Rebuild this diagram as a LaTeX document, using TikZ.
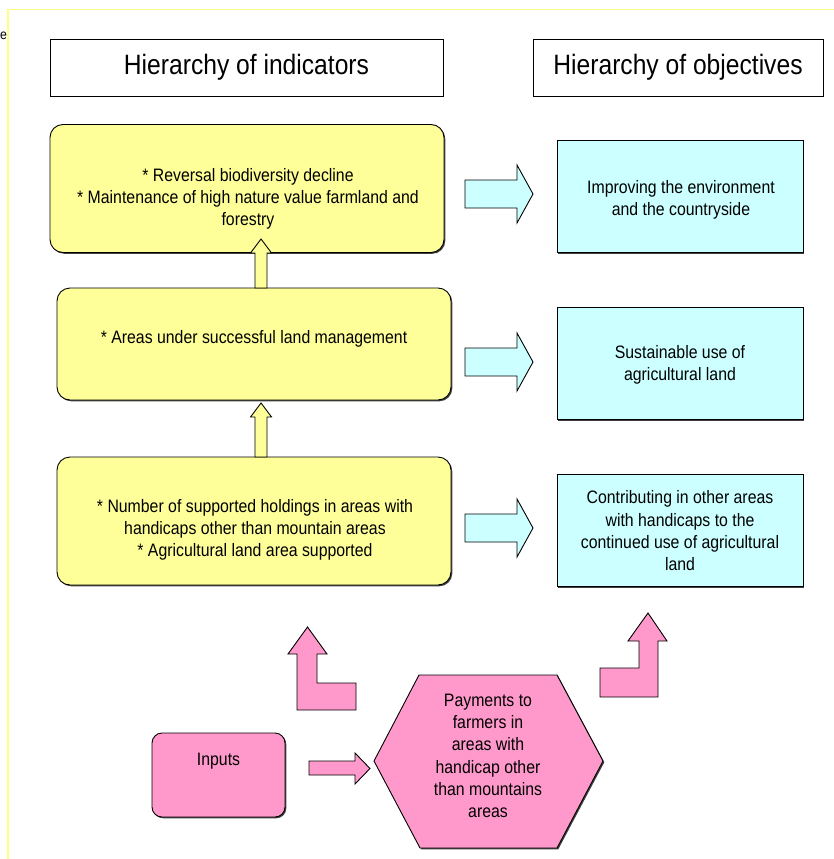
\documentclass[tikz,border=0pt]{standalone}
\usepackage{fontspec}
\setmainfont{Liberation Sans}[FakeStretch=0.88]
\usetikzlibrary{shadows}
\definecolor{ylw}{HTML}{FFFF99}
\definecolor{cyn}{HTML}{CCFFFF}
\definecolor{pnk}{HTML}{FF99CC}
\definecolor{frm}{HTML}{FFFF80}
\tikzset{
  shd/.style={drop shadow={shadow xshift=1.3pt,shadow yshift=-1.3pt,opacity=1,fill=black!75}},
  hdr/.style={draw,line width=0.9pt,fill=white,shd,inner sep=0pt,minimum height=57,font=\fontsize{28}{32}\selectfont},
  ybox/.style={draw,line width=0.9pt,fill=ylw,shd,rounded corners=13pt,minimum width=394,inner sep=0pt},
  cbox/.style={draw,line width=0.9pt,fill=cyn,shd,minimum width=246,minimum height=112,inner sep=0pt},
  txt/.style={align=center,inner sep=0pt,font=\fontsize{18}{22.3}\selectfont},
  yarr/.style={draw,line width=0.9pt,fill=ylw,line join=miter},
  carr/.style={draw,line width=0.9pt,fill=cyn,line join=miter},
  parr/.style={draw,line width=0.9pt,fill=pnk,line join=miter},
}
\begin{document}
\begin{tikzpicture}[x=1pt,y=-1pt]
\useasboundingbox (0,0) rectangle (834,859);
% outer frame
\draw[frm,line width=1.4pt] (8,9.5) rectangle (900,900);
\node[anchor=base west,font=\fontsize{14}{16}\selectfont,inner sep=0pt] (efrag) at (0,40) {e};
% headers
\node[hdr,minimum width=393] (hi) at (246.5,67.5) {Hierarchy of indicators};
\node[hdr,minimum width=290] (ho) at (678,67.5) {Hierarchy of objectives};
% yellow boxes
\node[ybox,minimum height=128] (y1) at (247,188.5) {};
\node[txt] (y1t) at (248,199) {* Reversal biodiversity decline\\* Maintenance of high nature value farmland and\\forestry};
\node[ybox,minimum height=112] (y2) at (254,344) {};
\node[txt] (y2t) at (254,339) {* Areas under successful land management};
\node[ybox,minimum height=128] (y3) at (254,521) {};
\node[txt] (y3t) at (255,530) {* Number of supported holdings in areas with\\handicaps other than mountain areas\\* Agricultural land area supported};
% cyan boxes
\node[cbox] (c1) at (680,196.5) {};
\node[txt] (c1t) at (681,199.5) {Improving the environment\\and the countryside};
\node[cbox] (c2) at (680,363.5) {};
\node[txt] (c2t) at (680,365) {Sustainable use of\\agricultural land};
\node[cbox] (c3) at (680,530.5) {};
\node[txt] (c3t) at (680,531) {Contributing in other areas\\with handicaps to the\\continued use of agricultural\\land};
% up arrows (yellow)
\draw[yarr] (255,288) -- (255,253) -- (250.5,253) -- (261,239) -- (271.5,253) -- (267,253) -- (267,288) -- cycle;
\draw[yarr] (255,457) -- (255,417) -- (250.5,417) -- (261,403) -- (271.5,417) -- (267,417) -- (267,457) -- cycle;
% right arrows (cyan)
\draw[carr] (465,180) -- (517,180) -- (517,165) -- (533,194) -- (517,223) -- (517,208) -- (465,208) -- cycle;
\draw[carr] (465,348) -- (517,348) -- (517,333) -- (533,362) -- (517,391) -- (517,376) -- (465,376) -- cycle;
\draw[carr] (465,514) -- (517,514) -- (517,499) -- (533,528) -- (517,557) -- (517,542) -- (465,542) -- cycle;
% inputs
\node[draw,line width=0.9pt,fill=pnk,shd,rounded corners=10pt,minimum width=133,minimum height=84,inner sep=0pt] (inp) at (218.5,775) {};
\node[txt] (inpt) at (218.5,761) {Inputs};
% hexagon
\draw[line width=0.9pt,fill=pnk,shd] (419,675) -- (557,675) -- (603,761) -- (557,848) -- (420,848) -- (374,761) -- cycle;
\node[txt] (pay) at (488,756) {Payments to\\farmers in\\areas with\\handicap other\\than mountains\\areas};
% pink arrows
\draw[parr] (309,761) -- (355,761) -- (355,753) -- (370,768.5) -- (355,784) -- (355,775) -- (309,775) -- cycle;
\draw[parr] (297,710) -- (356,710) -- (356,683) -- (317,683) -- (317,654) -- (327,654) -- (307.5,627) -- (288,654) -- (297,654) -- cycle;
\draw[parr] (600,697) -- (658,697) -- (658,641) -- (667,641) -- (648,613) -- (628,641) -- (639,641) -- (639,668) -- (600,668) -- cycle;
\end{tikzpicture}
\end{document}
